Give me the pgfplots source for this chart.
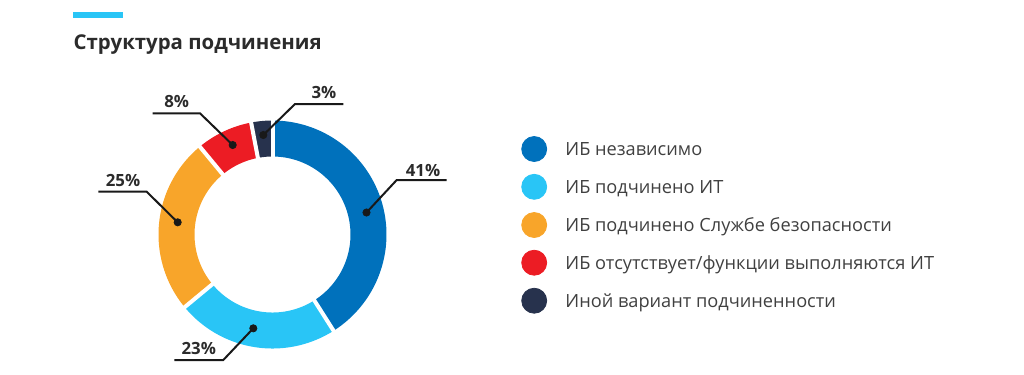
\documentclass[border=0pt]{standalone}
\usepackage{fontspec}
\setmainfont{Open Sans}
\usepackage{pgfplots}
\pgfplotsset{compat=1.18}
\definecolor{cA}{HTML}{0071BC}
\definecolor{cB}{HTML}{29C5F6}
\definecolor{cC}{HTML}{F8A52A}
\definecolor{cD}{HTML}{EC1C24}
\definecolor{cE}{HTML}{27324D}
\definecolor{txt}{HTML}{2B2B2B}
% shares in percent
\def\vA{41}\def\vB{23}\def\vC{25}\def\vD{8}\def\vE{3}
\pgfmathsetmacro\aZ{90}
\pgfmathsetmacro\aA{\aZ-3.6*\vA}
\pgfmathsetmacro\aB{\aA-3.6*\vB}
\pgfmathsetmacro\aC{\aB-3.6*\vC}
\pgfmathsetmacro\aD{\aC-3.6*\vD}
\pgfmathsetmacro\aE{\aD-3.6*\vE}
\def\cx{272.5}\def\cy{234.5}\def\rm{96}
\begin{document}
\begin{tikzpicture}
\begin{axis}[
  hide axis, scale only axis, width=512pt, height=187pt,
  xmin=0, xmax=1024, ymin=0, ymax=374, y dir=reverse, clip=false,
  every axis plot/.append style={line cap=butt},
]
\addplot[draw=none] coordinates {(0,0) (1024,374)};
% top accent bar
\addplot[fill=cB, draw=none] coordinates {(73.3,11.7) (122.7,11.7) (122.7,18.3) (73.3,18.3)} -- cycle;
\node[anchor=base west, font=\fontsize{10.2}{12}\selectfont\bfseries, text=txt, inner sep=0pt] at (axis cs:73.3,49) {Структура подчинения};
% ring segments
\addplot[cA, line width=18pt, domain=\aA:\aZ, samples=90, variable=\t] ({\cx+\rm*cos(\t)},{\cy-\rm*sin(\t)});
\addplot[cB, line width=18pt, domain=\aB:\aA, samples=60, variable=\t] ({\cx+\rm*cos(\t)},{\cy-\rm*sin(\t)});
\addplot[cC, line width=18pt, domain=\aC:\aB, samples=60, variable=\t] ({\cx+\rm*cos(\t)},{\cy-\rm*sin(\t)});
\addplot[cD, line width=18pt, domain=\aD:\aC, samples=30, variable=\t] ({\cx+\rm*cos(\t)},{\cy-\rm*sin(\t)});
\addplot[cE, line width=18pt, domain=\aE:\aD, samples=20, variable=\t] ({\cx+\rm*cos(\t)},{\cy-\rm*sin(\t)});
% white gaps
\foreach \g in {\aZ,\aA,\aB,\aC,\aD}{
  \edef\tmp{\noexpand\addplot[white, line width=2pt, domain=70:122, samples=2, variable=\noexpand\s] ({\noexpand\cx+\noexpand\s*cos(\g)},{\noexpand\cy-\noexpand\s*sin(\g)});}
  \tmp
}
% leader lines
\addplot[black!90, line width=1pt] coordinates {(366.5,212.5) (396.7,180) (446.7,180)};
\addplot[black!90, line width=1pt] coordinates {(263.3,135) (295,104) (343.3,104)};
\addplot[black!90, line width=1pt] coordinates {(232.7,145) (200,113.3) (152.7,113.3)};
\addplot[black!90, line width=1pt] coordinates {(177.7,222.3) (146.7,191.7) (98.3,191.7)};
\addplot[black!90, line width=1pt] coordinates {(253.3,328.3) (223.3,360) (174.3,360)};
\addplot[only marks, mark=*, mark size=1.8pt, black!90] coordinates {(366.5,212.5) (263.3,135) (232.7,145) (177.7,222.3) (253.3,328.3)};
% percent labels
\begin{scope}[every node/.style={anchor=base, font=\fontsize{8.4}{10}\selectfont\bfseries, text=txt, inner sep=0pt}]
\node at (axis cs:423,176.7) {\vA\%};
\node at (axis cs:324,98.3) {\vE\%};
\node at (axis cs:176.7,107.3) {\vD\%};
\node at (axis cs:123,186) {\vC\%};
\node at (axis cs:198.8,354) {\vB\%};
\end{scope}
% legend
\addplot[only marks, mark=*, mark size=6.25pt, cA, mark options={draw=none}] coordinates {(534.2,149)};
\addplot[only marks, mark=*, mark size=6.25pt, cB, mark options={draw=none}] coordinates {(534.2,186.8)};
\addplot[only marks, mark=*, mark size=6.25pt, cC, mark options={draw=none}] coordinates {(534.2,225)};
\addplot[only marks, mark=*, mark size=6.25pt, cD, mark options={draw=none}] coordinates {(534.2,262.7)};
\addplot[only marks, mark=*, mark size=6.25pt, cE, mark options={draw=none}] coordinates {(534.2,300.7)};
\begin{scope}[every node/.style={anchor=base west, font=\fontsize{9.1}{11}\selectfont, text=txt!90, inner sep=0pt}]
\node at (axis cs:565,155.5) {ИБ независимо};
\node at (axis cs:565,193.3) {ИБ подчинено ИТ};
\node at (axis cs:565,231.5) {ИБ подчинено Службе безопасности};
\node at (axis cs:565,269.2) {ИБ отсутствует/функции выполняются ИТ};
\node at (axis cs:565,307.2) {Иной вариант подчиненности};
\end{scope}
\end{axis}
\end{tikzpicture}
\end{document}
